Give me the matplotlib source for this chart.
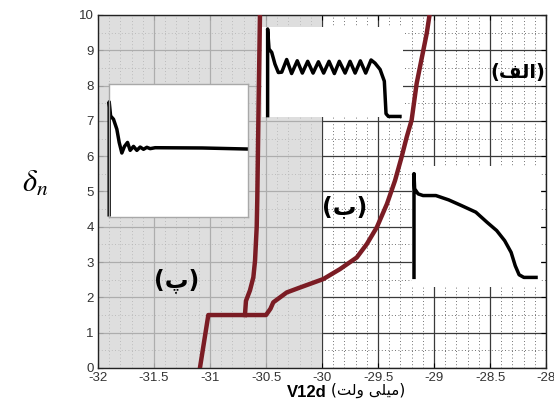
import matplotlib
matplotlib.use("Agg")
import matplotlib.pyplot as plt
from matplotlib.ticker import MultipleLocator

# main curve (dark red)
branch_a_x = [-31.09, -31.06, -31.015, -30.50, -30.46, -30.435, -30.315, -30.196,
              -29.988, -29.84, -29.69, -29.60, -29.51, -29.42, -29.348, -29.29,
              -29.244, -29.20, -29.155, -29.065, -29.04]
branch_a_y = [0.0, 0.6, 1.5, 1.5, 1.68, 1.86, 2.14, 2.28,
              2.52, 2.80, 3.13, 3.51, 3.99, 4.65, 5.31, 5.97,
              6.54, 7.02, 8.06, 9.48, 10.0]
branch_b_x = [-30.688, -30.679, -30.643, -30.613, -30.598, -30.583, -30.578, -30.566, -30.554]
branch_b_y = [1.5, 1.9, 2.2, 2.57, 3.04, 4.0, 4.77, 7.5, 10.0]

# small time-trace insets, in inset-local 0..1 coordinates
trace_p_x = [0.0, 0.0, 0.01, 0.031, 0.055, 0.072, 0.091, 0.11, 0.132, 0.151, 0.175,
             0.199, 0.223, 0.247, 0.271, 0.295, 0.331, 0.67, 1.0]
trace_p_y = [0.0, 0.866, 0.76, 0.735, 0.66, 0.56, 0.48, 0.53, 0.56, 0.50, 0.53,
             0.50, 0.525, 0.508, 0.523, 0.513, 0.52, 0.518, 0.51]

trace_alef_x = [0.04, 0.04, 0.05, 0.069, 0.092, 0.116, 0.14, 0.175, 0.21, 0.25, 0.286,
                0.324, 0.362, 0.40, 0.437, 0.475, 0.513, 0.548, 0.589, 0.624, 0.66,
                0.697, 0.735, 0.773, 0.801, 0.837, 0.867, 0.879, 0.896, 0.99]
trace_alef_y = [0.0, 0.978, 0.756, 0.719, 0.589, 0.496, 0.50, 0.64, 0.485, 0.626, 0.49,
                0.62, 0.49, 0.615, 0.49, 0.62, 0.485, 0.62, 0.49, 0.62, 0.49,
                0.625, 0.49, 0.635, 0.60, 0.53, 0.40, 0.04, 0.01, 0.01]

trace_b_x = [0.015, 0.015, 0.02, 0.047, 0.085, 0.185, 0.284, 0.383, 0.495, 0.582,
             0.657, 0.719, 0.769, 0.801, 0.831, 0.868, 0.976]
trace_b_y = [0.064, 0.94, 0.814, 0.772, 0.758, 0.758, 0.722, 0.675, 0.62, 0.536,
             0.467, 0.383, 0.286, 0.175, 0.10, 0.078, 0.078]

x_ticks = [-32, -31.5, -31, -30.5, -30, -29.5, -29, -28.5, -28]
x_tick_labels = ["-32", "-31.5", "-31", "-30.5", "-30", "-29.5", "-29", "-28.5", "-28"]
y_ticks = list(range(0, 11))

# persian labels, pre-shaped and laid out left to right for matplotlib
label_alef = "(\uFED2\uFEDF\uFE8D)"
label_be = "(\uFE8F)"
label_pe = "(\uFB56)"
unit_label = "(\uFE96\uFEDF\uFEED \uFBFD\uFEE0\uFEF4\uFEE3)"

RED = "#7b1c24"

plt.rcParams["mathtext.fontset"] = "stix"

fig = plt.figure(figsize=(5.54, 4.05), dpi=100)
ax = fig.add_axes([0.1769, 0.0914, 0.8087, 0.8716])
ax.set_xlim(-32, -28)
ax.set_ylim(0, 10)
ax.set_axisbelow(True)

ax.set_xticks(x_ticks)
ax.set_xticklabels(x_tick_labels)
ax.set_yticks(y_ticks)
ax.xaxis.set_minor_locator(MultipleLocator(0.1))
ax.yaxis.set_minor_locator(MultipleLocator(0.5))
ax.grid(which="major", color="#3a3a3a", lw=0.9)
ax.grid(which="minor", color="#444444", lw=0.6, linestyle=(0, (1, 3)))
ax.tick_params(which="both", direction="in", top=True, right=True,
               labelsize=9.5, labelcolor="#333333", pad=3)
ax.tick_params(which="minor", length=0)
for lab in ax.get_xticklabels() + ax.get_yticklabels():
    lab.set_family("Liberation Sans")
for sp in ax.spines.values():
    sp.set_color("#222222")
    sp.set_linewidth(1.0)

# gray shaded half of the plot
ax.axvspan(-32, -30, color="#d4d4d4", alpha=0.75, lw=0, zorder=1)

# insets
def add_trace(bounds, xs, ys, edge=None):
    ins = ax.inset_axes(bounds, transform=ax.transData)
    ins.set_xlim(0, 1)
    ins.set_ylim(0, 1)
    ins.set_xticks([])
    ins.set_yticks([])
    ins.set_facecolor("white")
    for sp in ins.spines.values():
        if edge:
            sp.set_color(edge)
            sp.set_linewidth(1.0)
        else:
            sp.set_visible(False)
    ins.plot(xs, ys, color="black", lw=2.5, solid_joinstyle="round",
             solid_capstyle="butt", clip_on=False)
    ins.set_zorder(5)
    return ins

add_trace([-31.90, 4.29, 1.24, 3.75], trace_p_x, trace_p_y, edge="#a8a8a8")
add_trace([-30.536, 7.10, 1.26, 2.56], trace_alef_x, trace_alef_y)
add_trace([-29.196, 2.30, 1.15, 3.41], trace_b_x, trace_b_y)

ax.plot(branch_a_x, branch_a_y, color=RED, lw=3.2, zorder=10,
        solid_joinstyle="round")
ax.plot(branch_b_x, branch_b_y, color=RED, lw=3.2, zorder=10,
        solid_joinstyle="round")

ax.text(-28.25, 8.38, label_alef, fontsize=14, fontweight="bold",
        ha="center", va="center", family="DejaVu Sans", zorder=11)
ax.text(-29.795, 4.55, label_be, fontsize=17, fontweight="bold",
        ha="center", va="center", family="DejaVu Sans", zorder=11)
ax.text(-31.295, 2.47, label_pe, fontsize=17, fontweight="bold",
        ha="center", va="center", family="DejaVu Sans", zorder=11)

fig.text(0.063, 0.548, r"$\delta_n$", fontsize=22, ha="center", va="center")
fig.text(327 / 554, 0.03, "V12d", fontsize=12, fontweight="bold",
         ha="right", va="center", family="Liberation Sans")
fig.text(331 / 554, 0.035, unit_label, fontsize=11, ha="left", va="center",
         family="DejaVu Sans")

fig.savefig("out.png", dpi=100)
